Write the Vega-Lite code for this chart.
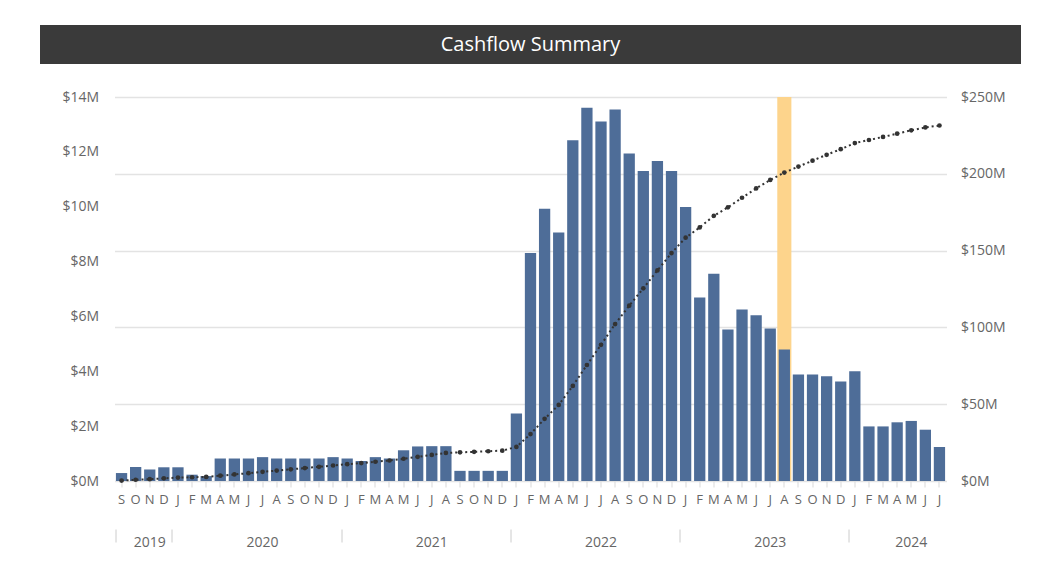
{
  "$schema": "https://vega.github.io/schema/vega-lite/v6.json",
  "background": "white",
  "padding": {"left": 40, "top": 25, "right": 40, "bottom": 5},
  "bounds": "flush",
  "center": true,
  "spacing": 33,
  "config": {"view": {"stroke": null}, "font": "Open Sans"},
  "datasets": {
    "cash": [
      {"month": "2019-09", "value": 0.29, "cum": 0.29},
      {"month": "2019-10", "value": 0.51, "cum": 0.80},
      {"month": "2019-11", "value": 0.42, "cum": 1.22},
      {"month": "2019-12", "value": 0.50, "cum": 1.72},
      {"month": "2020-01", "value": 0.50, "cum": 2.22},
      {"month": "2020-02", "value": 0.23, "cum": 2.45},
      {"month": "2020-03", "value": 0.18, "cum": 2.63},
      {"month": "2020-04", "value": 0.82, "cum": 3.45},
      {"month": "2020-05", "value": 0.82, "cum": 4.27},
      {"month": "2020-06", "value": 0.82, "cum": 5.09},
      {"month": "2020-07", "value": 0.87, "cum": 5.96},
      {"month": "2020-08", "value": 0.82, "cum": 6.78},
      {"month": "2020-09", "value": 0.82, "cum": 7.60},
      {"month": "2020-10", "value": 0.82, "cum": 8.42},
      {"month": "2020-11", "value": 0.82, "cum": 9.24},
      {"month": "2020-12", "value": 0.87, "cum": 10.11},
      {"month": "2021-01", "value": 0.82, "cum": 10.93},
      {"month": "2021-02", "value": 0.73, "cum": 11.66},
      {"month": "2021-03", "value": 0.87, "cum": 12.53},
      {"month": "2021-04", "value": 0.82, "cum": 13.35},
      {"month": "2021-05", "value": 1.12, "cum": 14.47},
      {"month": "2021-06", "value": 1.26, "cum": 15.73},
      {"month": "2021-07", "value": 1.27, "cum": 17.00},
      {"month": "2021-08", "value": 1.27, "cum": 18.27},
      {"month": "2021-09", "value": 0.37, "cum": 18.64},
      {"month": "2021-10", "value": 0.37, "cum": 19.01},
      {"month": "2021-11", "value": 0.37, "cum": 19.38},
      {"month": "2021-12", "value": 0.37, "cum": 19.75},
      {"month": "2022-01", "value": 2.46, "cum": 22.21},
      {"month": "2022-02", "value": 8.31, "cum": 30.52},
      {"month": "2022-03", "value": 9.93, "cum": 40.45},
      {"month": "2022-04", "value": 9.06, "cum": 49.51},
      {"month": "2022-05", "value": 12.42, "cum": 61.93},
      {"month": "2022-06", "value": 13.61, "cum": 75.54},
      {"month": "2022-07", "value": 13.11, "cum": 88.65},
      {"month": "2022-08", "value": 13.54, "cum": 102.19},
      {"month": "2022-09", "value": 11.94, "cum": 114.13},
      {"month": "2022-10", "value": 11.30, "cum": 125.43},
      {"month": "2022-11", "value": 11.67, "cum": 137.10},
      {"month": "2022-12", "value": 11.30, "cum": 148.40},
      {"month": "2023-01", "value": 9.99, "cum": 158.39},
      {"month": "2023-02", "value": 6.69, "cum": 165.08},
      {"month": "2023-03", "value": 7.56, "cum": 172.64},
      {"month": "2023-04", "value": 5.52, "cum": 178.16},
      {"month": "2023-05", "value": 6.25, "cum": 184.41},
      {"month": "2023-06", "value": 6.04, "cum": 190.45},
      {"month": "2023-07", "value": 5.56, "cum": 196.01},
      {"month": "2023-08", "value": 4.79, "cum": 200.80, "selected": true},
      {"month": "2023-09", "value": 3.88, "cum": 204.68},
      {"month": "2023-10", "value": 3.88, "cum": 208.56},
      {"month": "2023-11", "value": 3.82, "cum": 212.38},
      {"month": "2023-12", "value": 3.63, "cum": 216.01},
      {"month": "2024-01", "value": 4.00, "cum": 220.01},
      {"month": "2024-02", "value": 1.99, "cum": 222.00},
      {"month": "2024-03", "value": 1.99, "cum": 223.99},
      {"month": "2024-04", "value": 2.14, "cum": 226.13},
      {"month": "2024-05", "value": 2.19, "cum": 228.32},
      {"month": "2024-06", "value": 1.87, "cum": 230.19},
      {"month": "2024-07", "value": 1.24, "cum": 231.43}
    ]
  },
  "vconcat": [
    {
      "width": 981,
      "height": 39,
      "view": {"fill": "#3a3a3a", "stroke": null},
      "data": {"values": [{"t": "Cashflow Summary"}]},
      "mark": {"type": "text", "color": "#ffffff", "fontSize": 20, "font": "Open Sans"},
      "encoding": {"text": {"field": "t", "type": "nominal"}}
    },
    {
      "width": 832,
      "height": 384,
      "data": {"name": "cash"},
      "resolve": {"scale": {"y": "independent"}, "axis": {"x": "independent"}},
      "layer": [
        {
          "transform": [{"filter": "datum.selected === true"}],
          "mark": {"type": "bar", "color": "#FDD48C", "width": {"band": 1.25}},
          "encoding": {
            "x": {
              "field": "month", "type": "nominal", "sort": null,
              "scale": {"domain": ["2019-09","2019-10","2019-11","2019-12","2020-01","2020-02","2020-03","2020-04","2020-05","2020-06","2020-07","2020-08","2020-09","2020-10","2020-11","2020-12","2021-01","2021-02","2021-03","2021-04","2021-05","2021-06","2021-07","2021-08","2021-09","2021-10","2021-11","2021-12","2022-01","2022-02","2022-03","2022-04","2022-05","2022-06","2022-07","2022-08","2022-09","2022-10","2022-11","2022-12","2023-01","2023-02","2023-03","2023-04","2023-05","2023-06","2023-07","2023-08","2023-09","2023-10","2023-11","2023-12","2024-01","2024-02","2024-03","2024-04","2024-05","2024-06","2024-07"], "paddingInner": 0.2, "paddingOuter": 0.1},
              "axis": {
                "orient": "bottom",
                "values": ["2019-11","2020-07","2021-07","2022-07","2023-07","2024-05"],
                "bandPosition": 0,
                "labelExpr": "slice(datum.value, 0, 4)",
                "ticks": false, "domain": false, "grid": false,
                "offset": 40, "labelPadding": 14,
                "labelAngle": 0, "labelFontSize": 14, "labelColor": "#666666", "labelFont": "Open Sans",
                "title": null
              }
            },
            "y": {"datum": 250, "type": "quantitative", "scale": {"domain": [0, 250]}, "axis": null}
          }
        },
        {
          "mark": {"type": "bar", "color": "#4E6D98"},
          "encoding": {
            "x": {
              "field": "month", "type": "nominal", "sort": null,
              "axis": {
                "orient": "bottom",
                "labelExpr": "['J','F','M','A','M','J','J','A','S','O','N','D'][toNumber(slice(datum.value, 5, 7)) - 1]",
                "ticks": true, "tickSize": 6, "tickColor": "#d9d9d9",
                "domain": false, "grid": false, "labelPadding": 6,
                "labelAngle": 0, "labelFontSize": 13, "labelColor": "#666666", "labelFont": "Open Sans",
                "title": null
              }
            },
            "y": {
              "field": "value", "type": "quantitative",
              "scale": {"domain": [0, 14]},
              "axis": {
                "values": [0, 2, 4, 6, 8, 10, 12, 14],
                "labelExpr": "'$' + datum.value + 'M'",
                "grid": false, "ticks": false, "domain": false, "labelPadding": 16,
                "labelFontSize": 14, "labelColor": "#666666", "labelFont": "Open Sans",
                "title": null
              }
            }
          }
        },
        {
          "mark": {"type": "line", "color": "#333333", "strokeWidth": 2, "strokeDash": [2, 3], "point": {"filled": true, "size": 22, "color": "#333333"}},
          "encoding": {
            "x": {
              "field": "month", "type": "nominal", "sort": null,
              "axis": {
                "orient": "bottom",
                "values": ["2019-09","2020-01","2021-01","2022-01","2023-01","2024-01"],
                "bandPosition": 0,
                "labels": false, "domain": false, "grid": false,
                "ticks": true, "tickSize": 13, "tickColor": "#cccccc",
                "offset": 48, "title": null
              }
            },
            "y": {
              "field": "cum", "type": "quantitative",
              "scale": {"domain": [0, 250]},
              "axis": {
                "orient": "right",
                "values": [0, 50, 100, 150, 200, 250],
                "labelExpr": "'$' + datum.value + 'M'",
                "grid": true, "gridColor": "#e3e3e3", "gridWidth": 1.5,
                "ticks": false, "domain": false, "labelPadding": 14,
                "labelFontSize": 14, "labelColor": "#666666", "labelFont": "Open Sans",
                "title": null
              }
            }
          }
        }
      ]
    }
  ]
}
